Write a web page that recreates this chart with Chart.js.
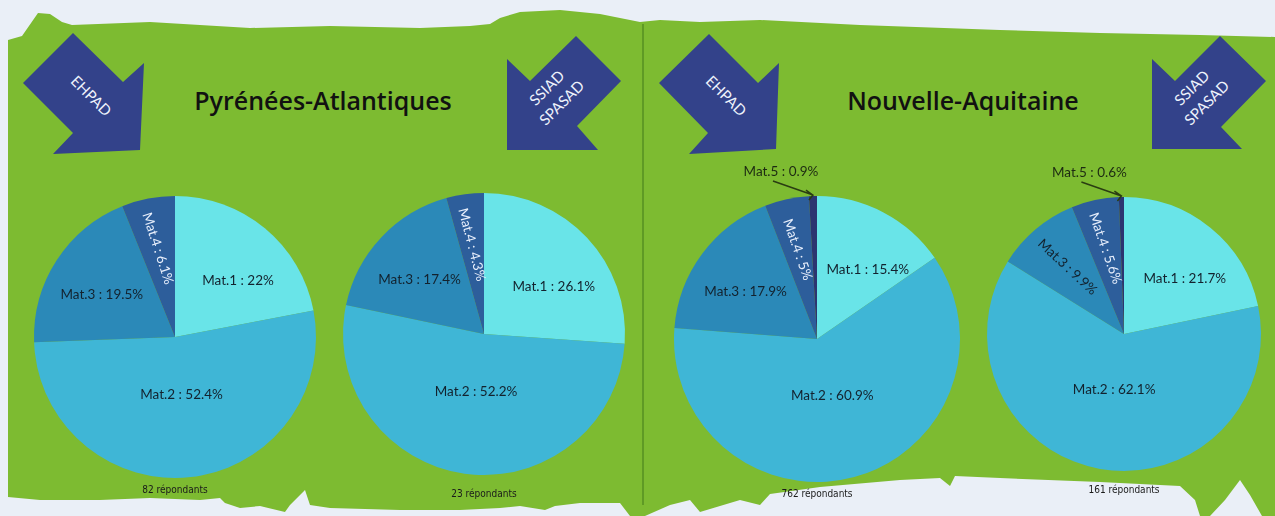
<!DOCTYPE html>
<html>
<head>
<meta charset="utf-8">
<script src="https://cdn.jsdelivr.net/npm/chart.js@4"></script>
<style>
  body { margin:0; width:1275px; height:516px; background:#eaeff7; overflow:hidden; position:relative; font-family:Lato, sans-serif; }
  svg.bg { position:absolute; left:0; top:0; }
  canvas { position:absolute; }
  .title { position:absolute; font-family:"Open Sans", sans-serif; font-weight:600; font-size:25px; color:#111; transform:translateX(-50%); white-space:nowrap; }
  .resp { position:absolute; font-family:"DejaVu Sans Condensed", "Liberation Sans Narrow", sans-serif; font-size:10px; color:#1a1a1a; transform:translate(-50%,-50%); white-space:nowrap; }
</style>
</head>
<body>
<svg class="bg" width="1275" height="516">
  <path fill="#7dbb31" d="M8,40 L22,36 L38,13 L50,14 L62,22 L72,25 L150,22 L250,28 L330,26 L420,28 L470,26 L490,24 L500,18 L520,12 L560,10 L600,14 L640,22 L660,20 L700,22 L760,20 L860,25 L1000,30 L1100,33 L1200,35 L1275,37 L1275,516 L1262,516 L1250,495 L1240,480 L1225,500 L1210,516 L1200,516 L1195,500 L1180,486 L1100,482 L1000,478 L955,476 L950,486 L940,478 L900,480 L820,487 L770,494 L760,505 L740,500 L700,512 L690,500 L670,505 L645,516 L630,516 L620,503 L580,503 L555,506 L545,510 L520,506 L500,508 L460,510 L400,510 L330,508 L310,505 L305,490 L290,505 L285,512 L260,506 L240,508 L225,503 L220,498 L200,500 L150,498 L100,500 L40,500 L8,497 Z"/>
  <line x1="643" y1="24" x2="643" y2="505" stroke="#5f9a25" stroke-width="2"/>
  <g fill="#33428a">
    <polygon points="73,33 123,82 144,63 140,150 53,154 73,133 23,83"/>
    <polygon points="576,36 621,81 577,126 598,150 507,150 507,59 530,81"/>
    <polygon points="709,34 758,83 779,63 776,149 689,154 708,133 659,83"/>
    <polygon points="1220,36 1266,81 1221,127 1242,149 1152,149 1152,59 1175,81"/>
  </g>
  <g fill="#eef2fc" font-family="Lato, sans-serif" font-size="15" text-anchor="middle" dominant-baseline="middle">
    <text transform="translate(90,97) rotate(45)">EHPAD</text>
    <text transform="translate(725,97) rotate(45)">EHPAD</text>
    <g transform="translate(555,96) rotate(-45)"><text y="-10">SSIAD</text><text y="11">SPASAD</text></g>
    <g transform="translate(1200,96) rotate(-45)"><text y="-10">SSIAD</text><text y="11">SPASAD</text></g>
  </g>
</svg>
<div class="title" style="left:323px; top:83px;">Pyrénées-Atlantiques</div>
<div class="title" style="left:963px; top:83px;">Nouvelle-Aquitaine</div>

<script>
const categories = ['Mat.1', 'Mat.2', 'Mat.3', 'Mat.4', 'Mat.5'];
const paEhpad = [22, 52.4, 19.5, 6.1];
const paSsiad = [26.1, 52.2, 17.4, 4.3];
const naEhpad = [15.4, 60.9, 17.9, 5, 0.9];
const naSsiad = [21.7, 62.1, 9.9, 5.6, 0.6];
const respondents = [82, 23, 762, 161];
const colors = ['#69e4e8', '#3fb6d6', '#2b89b8', '#2d5e9b', '#2c3570'];

// draws the slice labels: plain, rotated along the radius, or outside with an arrow
const sliceLabels = {
  id: 'sliceLabels',
  afterDatasetsDraw(chart) {
    const ctx = chart.ctx;
    const meta = chart.getDatasetMeta(0);
    const values = chart.data.datasets[0].data;
    ctx.save();
    ctx.font = '13.5px Lato, sans-serif';
    ctx.textAlign = 'center';
    ctx.textBaseline = 'middle';
    meta.data.forEach((arc, i) => {
      const p = arc.getProps(['x', 'y', 'startAngle', 'endAngle', 'outerRadius'], true);
      const v = values[i];
      const mid = (p.startAngle + p.endAngle) / 2;
      const text = chart.data.labels[i] + ' : ' + v + '%';
      if (v < 2) {
        const tx = p.x + Math.cos(mid) * p.outerRadius;
        const ty = p.y + Math.sin(mid) * p.outerRadius - 1;
        ctx.fillStyle = '#1d2a12';
        ctx.fillText(text, tx - 32, ty - 23);
        ctx.strokeStyle = '#2a3d12';
        ctx.lineWidth = 1.5;
        ctx.beginPath();
        ctx.moveTo(tx - 40, ty - 14);
        ctx.lineTo(tx, ty);
        ctx.moveTo(tx - 7, ty - 5);
        ctx.lineTo(tx, ty);
        ctx.lineTo(tx - 4, ty + 5);
        ctx.stroke();
      } else if (v < 11) {
        const rr = p.outerRadius * 0.64;
        ctx.save();
        ctx.translate(p.x + Math.cos(mid) * rr, p.y + Math.sin(mid) * rr);
        ctx.rotate(mid + Math.PI - 0.12);
        ctx.fillStyle = i === 3 ? '#e8effc' : '#13222e';
        ctx.fillText(text, 0, 0);
        ctx.restore();
      } else {
        // big slices sit closer to the centre, the others lean a bit towards horizontal
        const a = v > 40 ? mid : mid + (Math.cos(mid) > 0 ? 0.15 : -0.05);
        const rr = p.outerRadius * (v > 40 ? 0.41 : 0.6);
        ctx.fillStyle = '#13222e';
        ctx.fillText(text, p.x + Math.cos(a) * rr, p.y + Math.sin(a) * rr);
      }
    });
    ctx.restore();
  }
};

const PAD = 40;
const panels = [
  { data: paEhpad, cx: 175, cy: 337, r: 141, n: respondents[0], ny: 489 },
  { data: paSsiad, cx: 484, cy: 334, r: 141, n: respondents[1], ny: 493 },
  { data: naEhpad, cx: 817, cy: 339, r: 143, n: respondents[2], ny: 493 },
  { data: naSsiad, cx: 1124, cy: 334, r: 137, n: respondents[3], ny: 489 }
];

panels.forEach(p => {
  const cv = document.createElement('canvas');
  const size = 2 * (p.r + PAD);
  cv.width = size;
  cv.height = size;
  cv.style.left = (p.cx - p.r - PAD) + 'px';
  cv.style.top = (p.cy - p.r - PAD) + 'px';
  document.body.appendChild(cv);

  new Chart(cv, {
    type: 'pie',
    data: {
      labels: categories.slice(0, p.data.length),
      datasets: [{ data: p.data, backgroundColor: colors, borderWidth: 0 }]
    },
    options: {
      responsive: false,
      animation: false,
      layout: { padding: PAD },
      plugins: { legend: { display: false }, tooltip: { enabled: false } }
    },
    plugins: [sliceLabels]
  });

  const lbl = document.createElement('div');
  lbl.className = 'resp';
  lbl.textContent = p.n + ' répondants';
  lbl.style.left = p.cx + 'px';
  lbl.style.top = p.ny + 'px';
  document.body.appendChild(lbl);
});
</script>
</body>
</html>
